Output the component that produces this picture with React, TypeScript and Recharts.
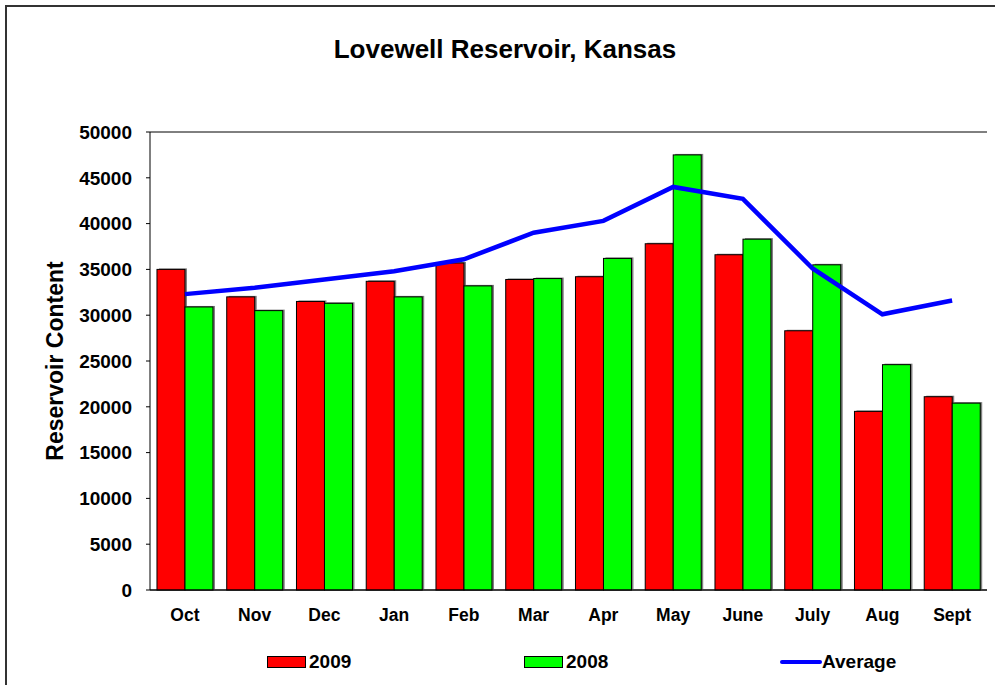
import React from 'react';
import { ComposedChart, Bar, Line, XAxis, YAxis, CartesianGrid, Legend } from 'recharts';

const months = ['Oct', 'Nov', 'Dec', 'Jan', 'Feb', 'Mar', 'Apr', 'May', 'June', 'July', 'Aug', 'Sept'];
const values2009 = [35000, 32000, 31500, 33700, 35700, 33900, 34200, 37800, 36600, 28300, 19500, 21100];
const values2008 = [30900, 30500, 31300, 32000, 33200, 34000, 36200, 47500, 38300, 35500, 24600, 20400];
const averageValues = [32300, 33000, 33900, 34800, 36100, 39000, 40300, 44000, 42700, 35100, 30100, 31600];
const yTicks = [0, 5000, 10000, 15000, 20000, 25000, 30000, 35000, 40000, 45000, 50000];

const data = months.map((m, i) => ({
  month: m,
  y2009: values2009[i],
  y2008: values2008[i],
  average: averageValues[i],
}));

const font = 'Arial, "Liberation Sans", Helvetica, sans-serif';

const ShadowBar = (props: any) => {
  const { x, y, width, height, fill } = props;
  if (!height || height <= 0) return null;
  return (
    <g>
      <rect x={x + 2} y={y - 1} width={width} height={height + 1} fill="#7f7f7f" />
      <rect x={x} y={y} width={width} height={height} fill={fill} stroke="#000" strokeWidth={1} />
    </g>
  );
};

const renderLegend = () => {
  const textStyle: React.CSSProperties = { position: 'absolute', top: 0, fontSize: 19, fontWeight: 700, lineHeight: '22px' };
  return (
    <div style={{ position: 'relative', width: 995, height: 24, fontFamily: font, color: '#000' }}>
      <div style={{ position: 'absolute', left: 267, top: 5, width: 37, height: 10, background: '#ff0000', border: '1px solid #000' }} />
      <span style={{ ...textStyle, left: 309 }}>2009</span>
      <div style={{ position: 'absolute', left: 524, top: 5, width: 37, height: 10, background: '#00ff00', border: '1px solid #000' }} />
      <span style={{ ...textStyle, left: 566 }}>2008</span>
      <div style={{ position: 'absolute', left: 780, top: 9, width: 42, height: 4, background: '#0000ff', borderRadius: 2 }} />
      <span style={{ ...textStyle, left: 822 }}>Average</span>
    </div>
  );
};

const YLabel = ({ viewBox }: any) => {
  const cx = viewBox.x + 55;
  const cy = viewBox.y + viewBox.height / 2;
  return (
    <text
      x={cx}
      y={cy}
      transform={`rotate(-90, ${cx}, ${cy})`}
      textAnchor="middle"
      dominantBaseline="central"
      fontFamily={font}
      fontSize={23}
      fontWeight={700}
      fill="#000"
    >
      Reservoir Content
    </text>
  );
};

export default function App() {
  const tickStyle = { fontFamily: font, fontSize: 19, fontWeight: 700, fill: '#000' };
  const xTickStyle = { ...tickStyle, fontSize: 17.5 };
  return (
    <div style={{ position: 'fixed', left: 0, top: 0, width: 995, height: 685, overflow: 'hidden', background: '#fff' }}>
      <div style={{ position: 'absolute', left: 5, top: 5, width: 1000, height: 700, border: '2px solid #333' }} />
      <div
        style={{
          position: 'absolute',
          left: 0,
          top: 35,
          width: 1010,
          textAlign: 'center',
          fontFamily: font,
          fontSize: 26,
          fontWeight: 700,
          lineHeight: '28px',
          color: '#000',
        }}
      >
        Lovewell Reservoir, Kansas
      </div>
      <div style={{ position: 'absolute', left: 0, top: 0 }}>
        <ComposedChart
          width={995}
          height={685}
          data={data}
          margin={{ top: 132, right: 8, bottom: 55, left: 0 }}
          barCategoryGap="10%"
          barGap={0}
        >
          <CartesianGrid vertical={false} stroke="#000" strokeWidth={1} />
          <XAxis
            dataKey="month"
            height={40}
            axisLine={{ stroke: '#000', strokeWidth: 1 }}
            tickLine={false}
            tickSize={0}
            tickMargin={19}
            tick={xTickStyle}
            interval={0}
          />
          <YAxis
            yAxisId="left"
            width={150}
            domain={[0, 50000]}
            ticks={yTicks}
            interval={0}
            axisLine={{ stroke: '#000', strokeWidth: 1 }}
            tickLine={{ stroke: '#000' }}
            tickSize={4}
            tickMargin={14}
            tick={tickStyle}
            label={<YLabel />}
          />
          <YAxis
            yAxisId="frame"
            orientation="right"
            width={0}
            domain={[0, 50000]}
            tick={false}
            tickLine={false}
            axisLine={{ stroke: '#000', strokeWidth: 1 }}
          />
          <Legend
            layout="horizontal"
            verticalAlign="middle"
            align="center"
            content={renderLegend}
            wrapperStyle={{ top: 651, left: 0, width: 995 }}
          />
          <Bar yAxisId="left" dataKey="y2009" name="2009" fill="#ff0000" shape={<ShadowBar />} isAnimationActive={false} />
          <Bar yAxisId="left" dataKey="y2008" name="2008" fill="#00ff00" shape={<ShadowBar />} isAnimationActive={false} />
          <Line
            yAxisId="left"
            type="linear"
            dataKey="average"
            name="Average"
            stroke="#0000ff"
            strokeWidth={4.5}
            dot={false}
            activeDot={false}
            isAnimationActive={false}
          />
        </ComposedChart>
      </div>
    </div>
  );
}
